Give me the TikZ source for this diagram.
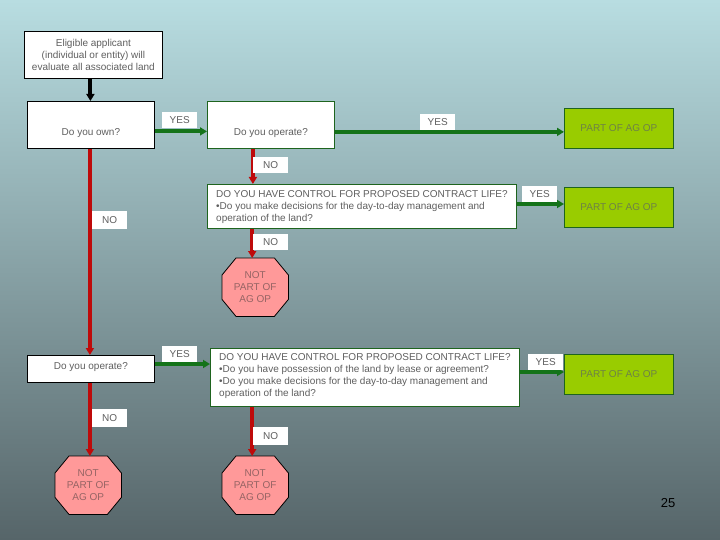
\documentclass[tikz,border=0pt]{standalone}
\usepackage{fontspec}
\setmainfont{Liberation Sans}
\usetikzlibrary{arrows.meta,calc}
\definecolor{bgtop}{RGB}{184,221,225}
\definecolor{bgmid}{RGB}{142,174,177}
\definecolor{bgbot}{RGB}{86,101,105}
\definecolor{gline}{RGB}{20,115,25}
\definecolor{gbord}{RGB}{30,100,30}
\definecolor{rline}{RGB}{190,10,10}
\definecolor{txt}{RGB}{95,95,95}
\definecolor{partfill}{RGB}{153,204,0}
\definecolor{parttxt}{RGB}{110,130,70}
\definecolor{octfill}{RGB}{255,153,153}
\definecolor{octtxt}{RGB}{150,100,100}
\tikzset{
  base/.style={anchor=north west, inner sep=0pt, font=\fontsize{10}{12}\selectfont, text=txt, align=center},
  qbox/.style={base, draw=black, line width=0.8pt, fill=white},
  gbox/.style={base, draw=gbord, line width=0.8pt, fill=white},
  partbox/.style={base, draw=gbord, line width=0.8pt, fill=partfill, text=parttxt, minimum width=109pt, minimum height=40pt},
  lbl/.style={base, fill=white, minimum width=35pt, minimum height=16pt},
  octbox/.style={base, minimum width=66pt, minimum height=58pt, text=octtxt},
  ctltext/.style={base, align=left},
  garr/.style={draw=gline, line width=4pt, -{Triangle[length=7pt,width=8pt]}},
  rarr/.style={draw=rline, line width=4pt, -{Triangle[length=7pt,width=8pt]}},
  karr/.style={draw=black, line width=4pt, -{Triangle[length=7pt,width=8pt]}},
  octline/.style={draw=black, line width=0.8pt, fill=octfill}
}
\newcommand{\octo}[1]{%
  \path[octline] ([xshift=14pt]#1.north west) -- ([xshift=-14pt]#1.north east)
   -- ([yshift=-17pt]#1.north east) -- ([yshift=17pt]#1.south east)
   -- ([xshift=-14pt]#1.south east) -- ([xshift=14pt]#1.south west)
   -- ([yshift=17pt]#1.south west) -- ([yshift=-17pt]#1.north west) -- cycle;}
\begin{document}
\begin{tikzpicture}[x=1pt,y=-1pt]
\shade[top color=bgtop, middle color=bgmid, bottom color=bgbot] (0,0) rectangle (720,540);
\useasboundingbox (0,0) rectangle (720,540);

% nodes
\node[qbox, minimum width=138pt, minimum height=47pt] (start) at (24,31)
  {Eligible applicant\\(individual or entity) will\\evaluate all associated land};
\node[qbox, minimum width=127pt, minimum height=47pt] (own) at (27,101) {\raisebox{-10.5pt}[0pt][0pt]{Do you own?}};
\node[gbox, minimum width=127pt, minimum height=47pt] (op1) at (207,101) {\raisebox{-10.5pt}[0pt][0pt]{Do you operate?}};
\node[partbox] (part1) at (564,108) {PART OF AG OP};
\node[gbox, minimum width=309pt, minimum height=44pt] (ctl1) at (207,184) {};
\node[ctltext] (ctl1t) at ([xshift=9pt,yshift=-6.5pt]ctl1.north west)
  {DO YOU HAVE CONTROL FOR PROPOSED CONTRACT LIFE?\\
   •Do you make decisions for the day-to-day management and\\
   operation of the land?};
\node[partbox] (part2) at (564,187) {PART OF AG OP};
\node[octbox] (oct1) at (222,258) {};
\node[qbox, minimum width=127pt, minimum height=27pt] (op2) at (27,355) {\raisebox{-1pt}[0pt][0pt]{Do you operate?}};
\node[gbox, minimum width=309pt, minimum height=58pt] (ctl2) at (210,348) {};
\node[ctltext] (ctl2t) at ([xshift=9pt,yshift=-5.5pt]ctl2.north west)
  {DO YOU HAVE CONTROL FOR PROPOSED CONTRACT LIFE?\\
   •Do you have possession of the land by lease or agreement?\\
   •Do you make decisions for the day-to-day management and\\
   operation of the land?};
\node[partbox] (part3) at (564,354) {PART OF AG OP};
\node[octbox] (oct2) at (55,456) {};
\node[octbox] (oct3) at (222,456) {};

% octagons
\octo{oct1}\octo{oct2}\octo{oct3}
\node[base, anchor=center, text=octtxt] (t1) at (oct1.center) {NOT\\PART OF\\AG OP};
\node[base, anchor=center, text=octtxt] (t2) at (oct2.center) {NOT\\PART OF\\AG OP};
\node[base, anchor=center, text=octtxt] (t3) at (oct3.center) {NOT\\PART OF\\AG OP};

% connectors
\draw[karr] ([xshift=-3pt]start.south) -- ([xshift=-3pt]start.south |- own.north);
\draw[garr] ([yshift=-6.5pt]own.east) -- ([yshift=-6.5pt]own.east -| op1.west);
\draw[garr] ([yshift=-7pt]op1.east) -- ([yshift=-7pt]op1.east -| part1.west);
\draw[rarr] ([xshift=-18pt]op1.south) -- ([xshift=-18pt]op1.south |- ctl1.north);
\draw[garr] ([yshift=-20pt]ctl1.north east) -- ([yshift=-20pt]ctl1.north east -| part2.west);
\draw[rarr] ([xshift=-3pt]oct1.north |- ctl1.south) -- ([xshift=-3pt]oct1.north);
\draw[rarr] ([xshift=-1pt]own.south) -- ([xshift=-1pt]own.south |- op2.north);
\draw[garr] ([yshift=-9pt]op2.north east) -- ([yshift=-9pt]op2.north east -| ctl2.west);
\draw[garr] ([yshift=-24pt]ctl2.north east) -- ([yshift=-24pt]ctl2.north east -| part3.west);
\draw[rarr] ([xshift=-1pt]op2.south) -- ([xshift=-1pt]op2.south |- oct2.north);
\draw[rarr] ([xshift=-3pt]oct3.north |- ctl2.south) -- ([xshift=-3pt]oct3.north);

% labels
\node[lbl] (y1) at (162,112) {YES};
\node[lbl] (y2) at (420,114) {YES};
\node[lbl] (n1) at (253,157) {NO};
\node[lbl] (y3) at (522,186) {YES};
\node[lbl, minimum height=18pt] (n2) at (92,211) {NO};
\node[lbl] (n3) at (253,234) {NO};
\node[lbl] (y4) at (162,346) {YES};
\node[lbl] (y5) at (528,354) {YES};
\node[lbl, minimum height=18pt] (n4) at (92,409) {NO};
\node[lbl, minimum height=18pt] (n5) at (253,427) {NO};

\node[font=\fontsize{13}{15}\selectfont, text=black, inner sep=0pt] (pg) at (668,503) {25};
\end{tikzpicture}
\end{document}
